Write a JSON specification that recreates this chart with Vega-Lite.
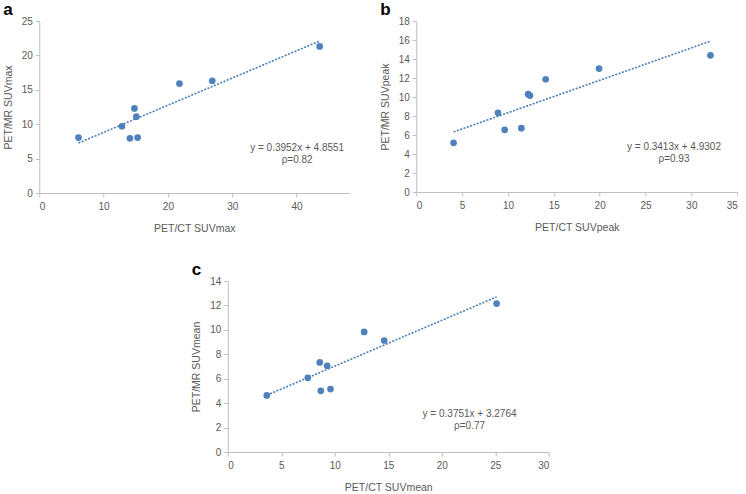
{
  "$schema": "https://vega.github.io/schema/vega-lite/v6.json",
  "padding": {"left": 3, "top": 1, "right": 0, "bottom": 0},
  "background": "white",
  "config": {
    "view": {"stroke": null},
    "font": "Liberation Sans",
    "axis": {
      "grid": false,
      "labelOverlap": false,
      "format": "d",
      "labelFont": "Liberation Sans",
      "labelFontSize": 10,
      "labelColor": "#595959",
      "titleFont": "Liberation Sans",
      "titleFontSize": 10.5,
      "titleFontWeight": "normal",
      "titleColor": "#595959",
      "domainColor": "#bfbfbf",
      "tickColor": "#bfbfbf",
      "tickSize": 4
    },
    "axisX": {"labelPadding": 4, "titlePadding": 12},
    "axisY": {"labelPadding": 3, "titlePadding": 8},
    "title": {"anchor": "start", "frame": "bounds", "fontSize": 17, "fontWeight": "bold", "color": "black", "font": "Liberation Sans", "offset": -3}
  },
  "datasets": {
    "a": [
      {"ct": 6.1, "mr": 8.05},
      {"ct": 12.85, "mr": 9.7},
      {"ct": 14.1, "mr": 7.95},
      {"ct": 15.3, "mr": 8.05},
      {"ct": 14.8, "mr": 12.3},
      {"ct": 15.1, "mr": 11.1},
      {"ct": 21.8, "mr": 15.9},
      {"ct": 26.9, "mr": 16.3},
      {"ct": 43.6, "mr": 21.3}
    ],
    "b": [
      {"ct": 4.07, "mr": 5.18},
      {"ct": 8.91, "mr": 8.33},
      {"ct": 9.64, "mr": 6.55},
      {"ct": 11.46, "mr": 6.72},
      {"ct": 12.2, "mr": 10.3},
      {"ct": 12.4, "mr": 10.15},
      {"ct": 14.11, "mr": 11.87},
      {"ct": 19.93, "mr": 12.99},
      {"ct": 32.08, "mr": 14.39}
    ],
    "c": [
      {"ct": 3.65, "mr": 4.63},
      {"ct": 7.48, "mr": 6.07},
      {"ct": 8.6, "mr": 7.33},
      {"ct": 8.7, "mr": 5.01},
      {"ct": 9.29, "mr": 7.06},
      {"ct": 9.6, "mr": 5.15},
      {"ct": 12.75, "mr": 9.83},
      {"ct": 14.62, "mr": 9.13},
      {"ct": 25.13, "mr": 12.15}
    ],
    "fa": [{"x1": 6.1, "y1": 7.26, "x2": 43.6, "y2": 22.09}],
    "fb": [{"x1": 4.07, "y1": 6.32, "x2": 32.08, "y2": 15.88}],
    "fc": [{"x1": 3.65, "y1": 4.65, "x2": 25.13, "y2": 12.70}],
    "ta": [{"x": 40.1, "y": 6.55, "t": ["y = 0.3952x + 4.8551", "ρ=0.82"]}],
    "tb": [{"x": 28.1, "y": 4.7, "t": ["y = 0.3413x + 4.9302", "ρ=0.93"]}],
    "tc": [{"x": 22.6, "y": 3.15, "t": ["y = 0.3751x + 3.2764", "ρ=0.77"]}]
  },
  "vconcat": [
    {
      "hconcat": [
        {
          "title": "a",
          "width": 310,
          "height": 172,
          "layer": [
            {
              "data": {"name": "fa"},
              "mark": {"type": "rule", "color": "#4a7ebb", "strokeWidth": 1.6, "strokeDash": [2, 1.5]},
              "encoding": {
                "x": {"field": "x1", "type": "quantitative", "scale": {"domain": [0, 48.2], "nice": false}, "axis": {"values": [0, 10, 20, 30, 40], "tickCount": 30, "format": "d", "title": "PET/CT  SUVmax"}},
                "y": {"field": "y1", "type": "quantitative", "scale": {"domain": [0, 25], "nice": false}, "axis": {"values": [0, 5, 10, 15, 20, 25], "tickCount": 30, "format": "d", "title": "PET/MR SUVmax"}},
                "x2": {"field": "x2"},
                "y2": {"field": "y2"}
              }
            },
            {
              "data": {"name": "a"},
              "mark": {"type": "circle", "color": "#4f81bd", "opacity": 1, "size": 45},
              "encoding": {
                "x": {"field": "ct", "type": "quantitative"},
                "y": {"field": "mr", "type": "quantitative"}
              }
            },
            {
              "data": {"name": "ta"},
              "mark": {"type": "text", "align": "center", "baseline": "middle", "fontSize": 10, "color": "#595959", "lineHeight": 12},
              "encoding": {
                "x": {"field": "x", "type": "quantitative"},
                "y": {"field": "y", "type": "quantitative"},
                "text": {"field": "t"}
              }
            }
          ]
        },
        {
          "title": "b",
          "width": 321,
          "height": 171,
          "layer": [
            {
              "data": {"name": "fb"},
              "mark": {"type": "rule", "color": "#4a7ebb", "strokeWidth": 1.6, "strokeDash": [2, 1.5]},
              "encoding": {
                "x": {"field": "x1", "type": "quantitative", "scale": {"domain": [0, 35], "nice": false}, "axis": {"values": [0, 5, 10, 15, 20, 25, 30, 35], "tickCount": 30, "format": "d", "title": "PET/CT  SUVpeak"}},
                "y": {"field": "y1", "type": "quantitative", "scale": {"domain": [0, 18], "nice": false}, "axis": {"values": [0, 2, 4, 6, 8, 10, 12, 14, 16, 18], "tickCount": 30, "format": "d", "title": "PET/MR SUVpeak"}},
                "x2": {"field": "x2"},
                "y2": {"field": "y2"}
              }
            },
            {
              "data": {"name": "b"},
              "mark": {"type": "circle", "color": "#4f81bd", "opacity": 1, "size": 45},
              "encoding": {
                "x": {"field": "ct", "type": "quantitative"},
                "y": {"field": "mr", "type": "quantitative"}
              }
            },
            {
              "data": {"name": "tb"},
              "mark": {"type": "text", "align": "center", "baseline": "middle", "fontSize": 10, "color": "#595959", "lineHeight": 12},
              "encoding": {
                "x": {"field": "x", "type": "quantitative"},
                "y": {"field": "y", "type": "quantitative"},
                "text": {"field": "t"}
              }
            }
          ]
        }
      ],
      "spacing": 30
    },
    {
      "title": "c",
      "width": 321,
      "height": 171,
      "layer": [
        {
          "data": {"name": "fc"},
          "mark": {"type": "rule", "color": "#4a7ebb", "strokeWidth": 1.6, "strokeDash": [2, 1.5]},
          "encoding": {
            "x": {"field": "x1", "type": "quantitative", "scale": {"domain": [0, 30], "nice": false}, "axis": {"values": [0, 5, 10, 15, 20, 25, 30], "tickCount": 30, "format": "d", "title": "PET/CT  SUVmean"}},
            "y": {"field": "y1", "type": "quantitative", "scale": {"domain": [0, 14], "nice": false}, "axis": {"values": [0, 2, 4, 6, 8, 10, 12, 14], "tickCount": 30, "format": "d", "title": "PET/MR SUVmean"}},
            "x2": {"field": "x2"},
            "y2": {"field": "y2"}
          }
        },
        {
          "data": {"name": "c"},
          "mark": {"type": "circle", "color": "#4f81bd", "opacity": 1, "size": 45},
          "encoding": {
            "x": {"field": "ct", "type": "quantitative"},
            "y": {"field": "mr", "type": "quantitative"}
          }
        },
        {
          "data": {"name": "tc"},
          "mark": {"type": "text", "align": "center", "baseline": "middle", "fontSize": 10, "color": "#595959", "lineHeight": 12},
          "encoding": {
            "x": {"field": "x", "type": "quantitative"},
            "y": {"field": "y", "type": "quantitative"},
            "text": {"field": "t"}
          }
        }
      ]
    }
  ],
  "spacing": 27,
  "center": true
}
